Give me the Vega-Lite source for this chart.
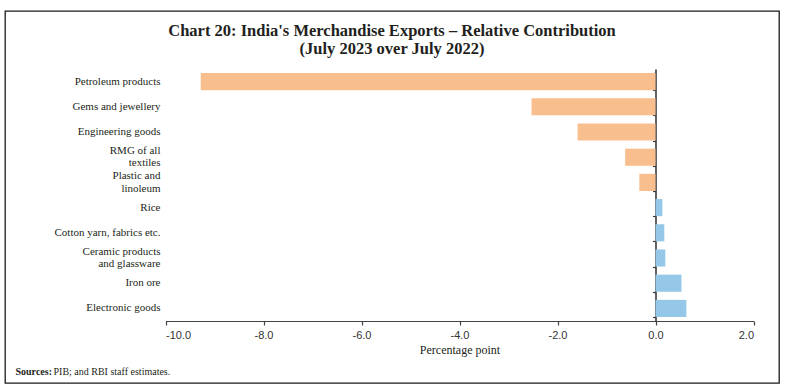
{
  "$schema": "https://vega.github.io/schema/vega-lite/v6.json",
  "width": 774,
  "height": 372,
  "autosize": "none",
  "padding": {"left": 5, "top": 11, "right": 6, "bottom": 7},
  "background": "white",
  "config": {
    "view": {"stroke": "#1a1a1a", "strokeWidth": 1.3},
    "font": "Liberation Serif"
  },
  "title": {
    "text": ["Chart 20: India's Merchandise Exports – Relative Contribution", "(July 2023 over July 2022)"],
    "anchor": "middle",
    "frame": "group",
    "font": "Liberation Serif",
    "fontSize": 16.5,
    "fontWeight": "bold",
    "color": "#231f20",
    "baseline": "top",
    "lineHeight": 18,
    "offset": -46
  },
  "data": {
    "values": [
      {"category": "Petroleum products", "value": -9.28},
      {"category": "Gems and jewellery", "value": -2.53},
      {"category": "Engineering goods", "value": -1.59},
      {"category": "RMG of all\ntextiles", "value": -0.62},
      {"category": "Plastic and\nlinoleum", "value": -0.33},
      {"category": "Rice", "value": 0.14},
      {"category": "Cotton yarn, fabrics etc.", "value": 0.18},
      {"category": "Ceramic products\nand glassware", "value": 0.2},
      {"category": "Iron ore", "value": 0.53},
      {"category": "Electronic goods", "value": 0.63}
    ]
  },
  "layer": [
    {
      "mark": {"type": "bar"},
      "encoding": {
        "y": {
          "field": "category",
          "type": "nominal",
          "sort": null,
          "scale": {"range": [58, 310], "paddingInner": 0.32, "paddingOuter": 0.16},
          "axis": {
            "orient": "left",
            "offset": -155,
            "domain": false,
            "ticks": false,
            "tickSize": 0,
            "labelPadding": 0,
            "title": null,
            "labelExpr": "split(datum.label, '\\n')",
            "labelOffset": {"condition": {"test": "indexof(datum.value, '\\n') >= 0", "value": -6.25}, "value": 0},
            "labelFont": "Liberation Serif",
            "labelFontSize": 11,
            "labelLineHeight": 12.5,
            "labelColor": "#231f20",
            "labelLimit": 300
          }
        },
        "x": {
          "field": "value",
          "type": "quantitative",
          "scale": {"domain": [-10, 2], "range": [160.5, 748.5], "nice": false, "zero": false},
          "axis": {
            "orient": "bottom",
            "offset": -62,
            "values": [-10, -8, -6, -4, -2, 0, 2],
            "labelExpr": "replace(format(datum.value, '.1f'), '−', '-')",
            "grid": false,
            "domainColor": "#444444",
            "domainWidth": 1.2,
            "tickColor": "#444444",
            "tickSize": 4,
            "tickWidth": 1.2,
            "labelPadding": 4,
            "labelFont": "Liberation Sans",
            "labelFontSize": 11,
            "labelColor": "#333333",
            "title": "Percentage point",
            "titleFont": "Liberation Serif",
            "titleFontSize": 12,
            "titleFontWeight": "normal",
            "titleColor": "#231f20",
            "titlePadding": 4
          }
        },
        "color": {
          "condition": {"test": "datum.value < 0", "value": "#F9BE8E"},
          "value": "#95C8E8"
        }
      }
    },
    {
      "mark": {"type": "bar", "opacity": 0},
      "encoding": {
        "y": {
          "field": "category",
          "type": "nominal",
          "sort": null,
          "axis": {
            "orient": "left",
            "offset": -650.5,
            "labels": false,
            "title": null,
            "domain": true,
            "domainColor": "#3a3a3a",
            "domainWidth": 1.6,
            "ticks": true,
            "tickBand": "extent",
            "tickSize": 3,
            "tickWidth": 1.2,
            "tickColor": "#3a3a3a"
          }
        },
        "x": {
          "field": "value",
          "type": "quantitative",
          "axis": {
            "orient": "bottom",
            "offset": 0,
            "labels": false,
            "ticks": false,
            "domain": false,
            "grid": false,
            "title": "Sources:",
            "titleFont": "Liberation Serif",
            "titleFontSize": 10,
            "titleFontWeight": "bold",
            "titleColor": "#231f20",
            "titleAnchor": "start",
            "titleAlign": "left",
            "titleBaseline": "middle",
            "titleX": 10,
            "titleY": -12
          }
        }
      }
    },
    {
      "mark": {"type": "bar", "opacity": 0},
      "encoding": {
        "y": {"field": "category", "type": "nominal", "sort": null, "axis": null},
        "x": {
          "field": "value",
          "type": "quantitative",
          "axis": {
            "orient": "bottom",
            "offset": 0,
            "labels": false,
            "ticks": false,
            "domain": false,
            "grid": false,
            "title": "PIB; and RBI staff estimates.",
            "titleFont": "Liberation Serif",
            "titleFontSize": 10,
            "titleFontWeight": "normal",
            "titleColor": "#231f20",
            "titleAnchor": "start",
            "titleAlign": "left",
            "titleBaseline": "middle",
            "titleX": 48,
            "titleY": -12
          }
        }
      }
    }
  ],
  "resolve": {"axis": {"x": "independent", "y": "independent"}}
}
